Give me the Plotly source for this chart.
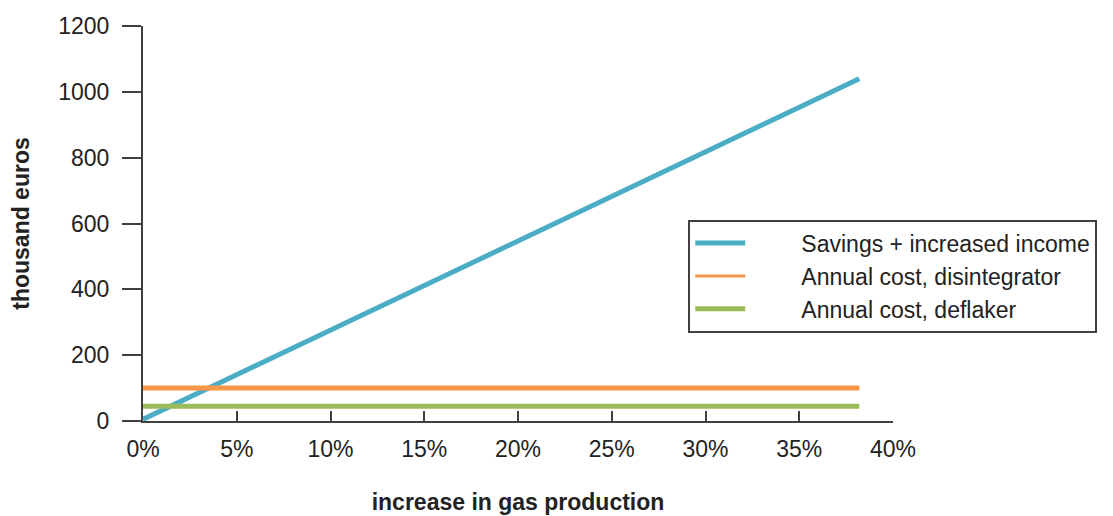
import plotly.graph_objects as go

# increase in gas production (fraction) and values in thousand euros
gas_increase = [0.0, 0.382]
savings_income = [5, 1040]
cost_disintegrator = [100, 100]
cost_deflaker = [45, 45]

names = ["Savings + increased income", "Annual cost, disintegrator", "Annual cost, deflaker"]
colors = ["#4bacc6", "#f79646", "#9bbb59"]
series = [savings_income, cost_disintegrator, cost_deflaker]
legend_widths = [5, 3, 5]

axis_col = "#404040"
font = "Liberation Sans, Arial, sans-serif"
gap = "\u00a0" * 8

fig = go.Figure()

# draw the real lines, no legend
for nm, col, ys in zip(names, colors, series):
    fig.add_trace(go.Scatter(x=gas_increase, y=ys, mode="lines", name=nm,
                             line=dict(color=col, width=5), showlegend=False,
                             legendgroup=nm, cliponaxis=False))

# legend entries (orange is drawn thinner in the legend)
for nm, col, w in zip(names, colors, legend_widths):
    fig.add_trace(go.Scatter(x=[None], y=[None], mode="lines", name=gap + nm,
                             line=dict(color=col, width=w), legendgroup=nm))

fig.update_layout(
    width=1113, height=516,
    margin=dict(l=135, r=228, t=18, b=103, autoexpand=False),
    paper_bgcolor="white", plot_bgcolor="white",
    font=dict(family=font, size=23, color="#222222"),
    showlegend=True,
    legend=dict(x=0.727, y=0.51, xanchor="left", yanchor="top",
                bordercolor=axis_col, borderwidth=2, bgcolor="white",
                font=dict(size=23), itemwidth=50, tracegroupgap=0),
    xaxis=dict(range=[0, 0.40], tickvals=[0, 0.05, 0.10, 0.15, 0.20, 0.25, 0.30, 0.35, 0.40],
               tickformat=".0%", ticks="inside", ticklen=10, tickwidth=2, tickcolor=axis_col,
               ticklabelstandoff=6,
               showline=True, linecolor=axis_col, linewidth=2, showgrid=False, zeroline=False,
               title=dict(text="<b>increase in gas production</b>", font=dict(size=23), standoff=33)),
    yaxis=dict(range=[0, 1200], tickvals=[0, 200, 400, 600, 800, 1000, 1200],
               ticks="outside", ticklen=19, tickwidth=2, tickcolor=axis_col, ticklabelstandoff=8,
               showline=True, linecolor=axis_col, linewidth=2, showgrid=False, zeroline=False,
               title=dict(text="<b>thousand euros</b>", font=dict(size=23), standoff=30)),
)

fig.write_html("out.html")
